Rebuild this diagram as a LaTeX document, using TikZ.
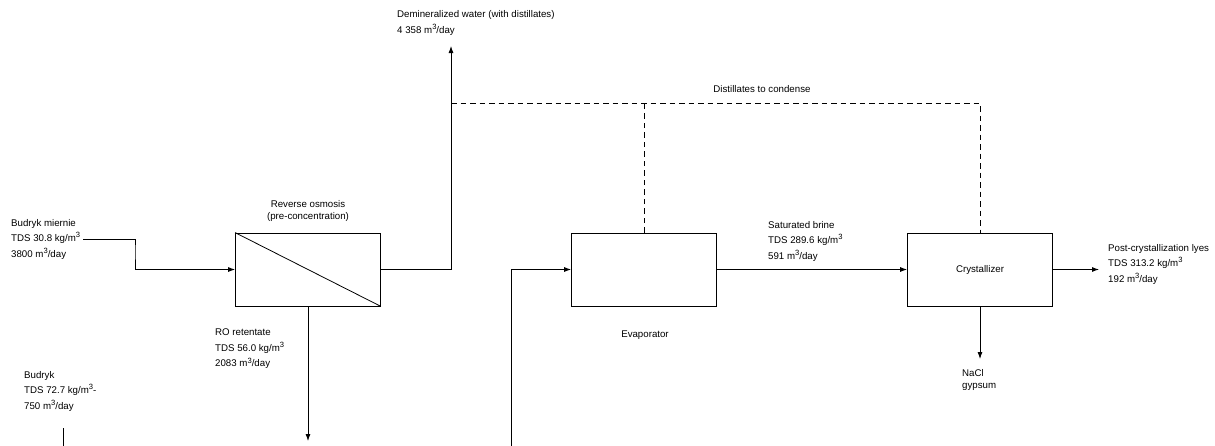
\documentclass[tikz,border=0pt]{standalone}
\usepackage{fontspec}
\setmainfont{Liberation Sans}
\usetikzlibrary{arrows.meta, calc}

\tikzset{
  unit/.style={draw, line width=0.8pt, minimum width=145pt, minimum height=73pt, inner sep=0pt},
  flow/.style={line width=0.8pt, -{Latex[length=7pt,width=5pt]}},
  pipe/.style={line width=0.8pt},
  vapour/.style={line width=0.8pt, dash pattern=on 5.5pt off 4pt},
  lbl/.style={inner sep=0pt, align=left, font=\fontsize{9.7}{15.5}\selectfont},
  tag/.style={inner sep=0pt, align=center, font=\fontsize{9.7}{12.5}\selectfont}
}
\newcommand{\cube}{m\raisebox{3.6pt}{\fontsize{7.6}{7.6}\selectfont 3}}

\begin{document}
\begin{tikzpicture}[x=1pt,y=-1pt,line cap=butt]
\useasboundingbox (0,0) rectangle (1215,445);

%%% process units (RO, evaporator, crystallizer)
\foreach \n/\x in {ro/308,evap/644,cryst/980} {
    \node[unit] (\n) at (\x,269.5) {};
}
\draw[pipe] (ro.north west) -- (ro.south east); % membrane
\node[tag] at (cryst.center) {Crystallizer};

\node[tag] (roName) at (308,211) {Reverse osmosis\\(pre-concentration)};
\node[tag] (evapName) at (645,335) {Evaporator};

%%% stream labels
\node[lbl, anchor=west] (feedA) at (11,239) {Budryk miernie\\TDS 30.8 kg/\cube\\3800 \cube/day};
\node[lbl, anchor=west] (budryk) at (24,391) {Budryk\\TDS 72.7 kg/\cube-\\750 \cube/day};
\node[lbl, anchor=west] (retent) at (215,349) {RO retentate\\TDS 56.0 kg/\cube\\2083 \cube/day};
\node[lbl, anchor=west] (demin) at (397,23) {Demineralized water (with distillates)\\4 358 \cube/day};
\node[tag] (distill) at (762,89) {Distillates to condense};
\node[lbl, anchor=west] (brine) at (768,241) {Saturated brine\\TDS 289.6 kg/\cube\\591 \cube/day};
\node[lbl, anchor=west] (lyes) at (1108,264) {Post-crystallization lyes\\TDS 313.2 kg/\cube\\192 \cube/day};
\node[tag, align=left, anchor=west] (salt) at (962,380) {NaCl\\gypsum};

%%% free ends and bends
\coordinate (k1) at (135,250);
\coordinate (wout) at (451,46);
\coordinate (d0) at (451,103);
\coordinate (rout) at (308,441);
\coordinate (b1) at (63,428);
\coordinate (b2) at (63,446);
\coordinate (e0) at (511,446);
\coordinate (nacl) at (980,359);
\coordinate (lout) at (1099,269.5);

% main streams
\draw[flow] ([xshift=3pt]feedA.east) -| (k1) |- (ro.west);
\draw[flow] (ro.east) -| (wout);
\draw[flow] (ro.south) -- (rout);
\draw[pipe] (b1) -- (b2);
\draw[flow] (e0) |- (evap.west);
\draw[flow] (evap.east) -- (cryst.west);
\draw[flow] (cryst.south) -- (nacl);
\draw[flow] (cryst.east) -- (lout);

% distillates (dashed)
\draw[vapour] (d0) -| (cryst.north);
\draw[vapour] (evap.north) -- (evap.north |- d0);

\end{tikzpicture}
\end{document}
